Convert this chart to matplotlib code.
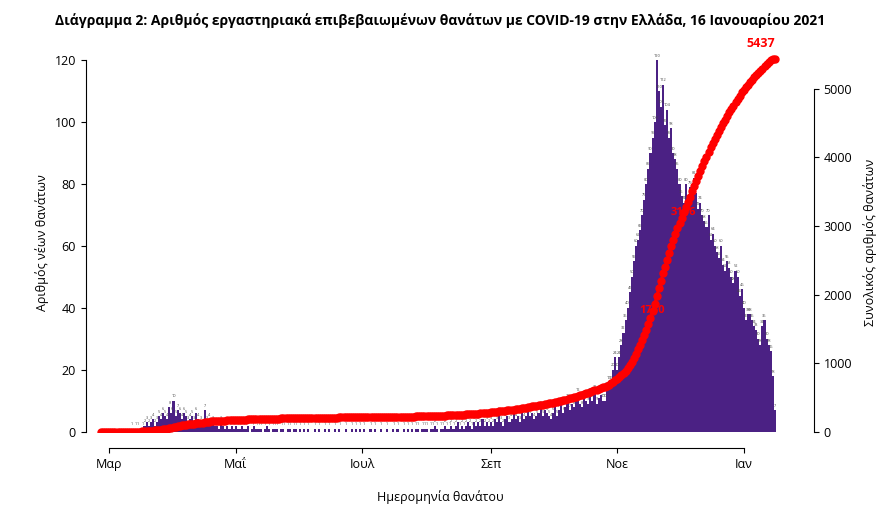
import matplotlib
matplotlib.use("Agg")
import matplotlib.pyplot as plt
import matplotlib.dates as mdates
import numpy as np
import pandas as pd

start_date = "2020-02-26"
feb = [0, 0, 0, 0]
mar = [0,0,0,0,0,0,0,0,0,0,0,1,0,1,1,0,1,2,3,2,3,4,2,3,5,4,6,5,4,8,6]
apr = [10,5,7,6,4,6,5,3,4,5,3,6,4,3,2,7,3,4,2,3,2,2,1,3,2,1,2,1,2,1]
may = [2,1,1,2,1,1,2,0,1,2,1,1,1,0,1,2,1,0,1,1,1,0,1,1,0,1,1,0,1,1,0]
jun = [1,0,1,0,1,0,0,1,0,1,0,0,1,0,1,0,0,1,0,1,0,0,1,0,0,1,0,1,0,1]
jul = [0,1,0,0,1,0,1,0,0,1,0,0,1,0,0,1,0,1,0,0,1,0,1,0,1,0,1,1,0,1,1]
aug = [1,0,1,1,2,1,0,1,1,2,1,1,2,1,2,3,1,2,1,2,3,2,1,3,2,3,2,4,2,3,2]
sep = [3,2,4,3,6,3,2,4,5,3,4,6,4,5,3,6,4,5,7,5,6,4,5,6,8,5,7,6,5,4]
oct_ = [6,8,5,7,9,6,8,10,7,9,8,10,12,9,8,11,10,9,12,10,13,9,11,12,10,10,14,16,16,20,24]
nov = [20,24,28,32,36,40,45,50,55,60,62,65,70,75,80,85,90,95,100,120,110,105,112,99,104,95,98,90,88,85]
dec = [80,76,74,80,72,79,75,82,77,72,74,70,68,66,70,62,64,60,58,56,60,54,52,55,53,50,48,52,50,44,46]
jan = [40,36,38,38,36,34,33,30,28,34,36,30,28,26,18,7]

daily = np.array(feb+mar+apr+may+jun+jul+aug+sep+oct_+nov+dec+jan)
dates = pd.date_range(start_date, periods=len(daily), freq="D")
cum = np.cumsum(daily)

tick_dates = pd.to_datetime(["2020-03-01","2020-05-01","2020-07-01","2020-09-01","2020-11-01","2021-01-01"])
tick_labels = ["Μαρ","Μαΐ","Ιουλ","Σεπ","Νοε","Ιαν"]
mid_label_dates = pd.to_datetime(["2020-11-18","2020-12-03"])

plt.rcParams["font.family"] = "Open Sans"
fig = plt.figure(figsize=(8.8,5.14), dpi=100)
ax = fig.add_axes([0.11, 0.16, 0.78, 0.735])
ax.bar(dates, daily, width=1.0, color="#4b2184", edgecolor="none")
for d, v in zip(dates, daily):
    if v > 0:
        ax.text(d, v+0.8, str(v), fontsize=2.8, ha="center", va="bottom", color="#444444")
ax.set_ylim(0, 122)
ax.set_yticks([0,20,40,60,80,100,120])
ax.set_xlim(pd.Timestamp("2020-02-24"), pd.Timestamp("2021-01-20"))
ax.set_xticks(tick_dates)
ax.set_xticklabels(tick_labels)
ax.tick_params(labelsize=9)
for s in ["top","right"]:
    ax.spines[s].set_visible(False)
ax.spines["left"].set_position(("outward", 8))
ax.spines["bottom"].set_position(("outward", 12))
ax.spines["left"].set_bounds(0, 120)
ax.spines["bottom"].set_bounds(mdates.date2num(tick_dates[0]), mdates.date2num(tick_dates[-1]))
ax.set_ylabel("Αριθμός νέων θανάτων", fontsize=9)
ax.set_xlabel("Ημερομηνία θανάτου", fontsize=9, labelpad=14)

ax2 = ax.twinx()
ax2.plot(dates, cum, color="#ff0000", lw=2, marker="o", ms=5, zorder=5)
ax2.set_ylim(0, 5000*122/110.8)
ax2.set_yticks([0,1000,2000,3000,4000,5000])
ax2.set_yticklabels(["0","1000","2000","3000","4000","5000"], rotation=90, va="center")
ax2.tick_params(labelsize=9)
for s in ["top","left","bottom"]:
    ax2.spines[s].set_visible(False)
ax2.spines["right"].set_position(("outward", 22))
ax2.spines["right"].set_bounds(0, 5000)
ax2.set_ylabel("Συνολικός αριθμός θανάτων", fontsize=9, labelpad=8)
ax2.text(dates[-1], cum[-1]+120, str(cum[-1]), color="#ff0000", fontsize=9, fontweight="bold", ha="right", va="bottom")
for md in mid_label_dates:
    i = int((md - dates[0]).days)
    ax2.text(dates[i], cum[i], str(cum[i]), color="#ff0000", fontsize=8, fontweight="bold", ha="center", va="center", zorder=6)

fig.suptitle("Διάγραμμα 2: Αριθμός εργαστηριακά επιβεβαιωμένων θανάτων με COVID-19 στην Ελλάδα, 16 Ιανουαρίου 2021",
             fontsize=10, fontweight="bold", y=0.975)
fig.savefig("out.png", dpi=100)
